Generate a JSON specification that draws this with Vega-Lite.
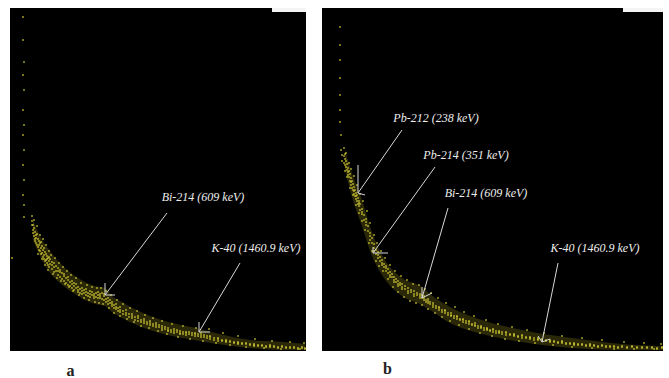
{
  "$schema": "https://vega.github.io/schema/vega-lite/v6.json",
  "background": "white",
  "padding": {"left": 10, "top": 8, "right": 6, "bottom": 0},
  "spacing": 16,
  "config": {
    "view": {"fill": "black", "stroke": null},
    "axisX": {"domain": false, "ticks": false, "labels": false, "grid": false, "titleFont": "Liberation Serif", "titleFontWeight": "bold", "titleFontSize": 16, "titleColor": "#222", "titleAnchor": "start", "titleAlign": "center", "titleBaseline": "middle"}
  },
  "datasets": {
    "specA": [
      {"c":13,"n":334},{"c":13,"n":311},{"c":14,"n":289},{"c":13,"n":276},{"c":14,"n":261},{"c":13,"n":241},{"c":14,"n":226},{"c":13,"n":216},{"c":14,"n":201},{"c":13,"n":186},{"c":14,"n":171},{"c":13,"n":156},{"c":14,"n":146},{"c":14,"n":134},{"c":22,"n":135},{"c":22,"n":130},{"c":22,"n":126},{"c":2,"n":93},
      {"c":23,"n":126},{"c":23,"n":118},{"c":23,"n":121},{"c":24,"n":115},{"c":24,"n":123},{"c":25,"n":112},{"c":25,"n":119},{"c":26,"n":108},{"c":26,"n":116},{"c":26,"n":113},{"c":27,"n":117},{"c":27,"n":106},{"c":28,"n":104},{"c":28,"n":112},{"c":29,"n":110},{"c":29,"n":101},{"c":29,"n":106},{"c":30,"n":100},{"c":30,"n":108},{"c":31,"n":103},{"c":31,"n":97},{"c":31,"n":109},{"c":32,"n":98},{"c":32,"n":105},{"c":33,"n":94},{"c":33,"n":101},{"c":34,"n":96},{"c":34,"n":92},{"c":34,"n":103},{"c":35,"n":90},{"c":35,"n":99},{"c":36,"n":97},{"c":36,"n":91},{"c":37,"n":88},{"c":37,"n":95},{"c":37,"n":92},{"c":38,"n":93},{"c":38,"n":86},{"c":39,"n":90},{"c":39,"n":84},{"c":39,"n":94},{"c":40,"n":87},{"c":40,"n":92},
      {"c":42,"n":82},{"c":42,"n":89},{"c":42,"n":86},{"c":44,"n":84},{"c":44,"n":79},{"c":44,"n":88},{"c":46,"n":80},{"c":46,"n":85},{"c":48,"n":76},{"c":48,"n":83},{"c":48,"n":80},{"c":50,"n":79},{"c":50,"n":74},{"c":50,"n":81},{"c":52,"n":72},{"c":52,"n":78},{"c":54,"n":75},{"c":54,"n":70},{"c":54,"n":77},{"c":56,"n":73},{"c":56,"n":68},{"c":58,"n":71},{"c":58,"n":66},{"c":58,"n":74},{"c":60,"n":69},{"c":60,"n":65},{"c":62,"n":67},{"c":62,"n":63},{"c":62,"n":70},{"c":64,"n":65},{"c":64,"n":61},{"c":64,"n":68},{"c":66,"n":63},{"c":66,"n":67},{"c":68,"n":61},{"c":68,"n":64},{"c":68,"n":59},{"c":70,"n":62},{"c":70,"n":58},{"c":72,"n":60},{"c":72,"n":57},{"c":72,"n":63},{"c":74,"n":58},{"c":74,"n":61},{"c":76,"n":56},{"c":76,"n":59},{"c":76,"n":62},{"c":78,"n":58},{"c":78,"n":55},{"c":80,"n":57},{"c":80,"n":54},{"c":80,"n":60},
      {"c":82,"n":56},{"c":82,"n":59},{"c":84,"n":53},{"c":84,"n":57},{"c":84,"n":55},{"c":86,"n":58},{"c":86,"n":54},{"c":88,"n":56},{"c":88,"n":59},{"c":88,"n":53},{"c":90,"n":57},{"c":90,"n":53},{"c":90,"n":55},{"c":92,"n":58},{"c":92,"n":52},{"c":94,"n":55},{"c":94,"n":51},{"c":94,"n":57},{"c":96,"n":52},{"c":96,"n":49},{"c":98,"n":50},{"c":98,"n":53},{"c":98,"n":47},{"c":100,"n":48},{"c":100,"n":51},{"c":102,"n":45},{"c":102,"n":49},{"c":102,"n":47},{"c":104,"n":46},{"c":104,"n":43},{"c":106,"n":44},{"c":106,"n":47},{"c":106,"n":42},{"c":108,"n":43},{"c":108,"n":40},{"c":110,"n":41},{"c":110,"n":44},{"c":110,"n":39},
      {"c":113,"n":40},{"c":113,"n":37},{"c":116,"n":38},{"c":116,"n":41},{"c":116,"n":36},{"c":119,"n":37},{"c":119,"n":34},{"c":122,"n":35},{"c":122,"n":33},{"c":122,"n":37},{"c":125,"n":34},{"c":125,"n":31},{"c":128,"n":33},{"c":128,"n":30},{"c":128,"n":35},{"c":131,"n":31},{"c":131,"n":29},{"c":134,"n":30},{"c":134,"n":32},{"c":134,"n":28},{"c":137,"n":29},{"c":137,"n":27},{"c":140,"n":28},{"c":140,"n":26},{"c":140,"n":30},{"c":143,"n":27},{"c":143,"n":25},{"c":146,"n":26},{"c":146,"n":24},{"c":146,"n":28},{"c":149,"n":24},{"c":149,"n":26},{"c":152,"n":23},{"c":152,"n":25},{"c":152,"n":21},{"c":155,"n":22},{"c":155,"n":24},{"c":158,"n":21},{"c":158,"n":23},{"c":158,"n":20},{"c":161,"n":21},{"c":161,"n":19},{"c":164,"n":20},{"c":164,"n":22},{"c":164,"n":18},{"c":167,"n":19},{"c":167,"n":21},{"c":170,"n":18},{"c":170,"n":20},{"c":170,"n":17},{"c":173,"n":19},{"c":173,"n":17},{"c":176,"n":18},{"c":176,"n":16},{"c":176,"n":19},{"c":179,"n":17},{"c":179,"n":19},{"c":182,"n":16},{"c":182,"n":18},{"c":185,"n":17},{"c":185,"n":15},{"c":185,"n":18},{"c":188,"n":17},{"c":188,"n":15},{"c":191,"n":16},{"c":191,"n":18},{"c":191,"n":14},{"c":194,"n":16},{"c":194,"n":14},{"c":197,"n":15},{"c":197,"n":13},{"c":200,"n":14},{"c":200,"n":12},{"c":200,"n":15},
      {"c":204,"n":13},{"c":204,"n":11},{"c":208,"n":12},{"c":208,"n":13},{"c":208,"n":10},{"c":212,"n":11},{"c":212,"n":10},{"c":216,"n":10},{"c":216,"n":11},{"c":216,"n":9},{"c":220,"n":9},{"c":220,"n":10},{"c":224,"n":9},{"c":224,"n":8},{"c":228,"n":8},{"c":228,"n":9},{"c":228,"n":7},{"c":232,"n":8},{"c":232,"n":7},{"c":236,"n":7},{"c":236,"n":8},{"c":240,"n":7},{"c":240,"n":6},{"c":244,"n":6},{"c":244,"n":7},{"c":244,"n":5},{"c":248,"n":6},{"c":248,"n":5},{"c":252,"n":5},{"c":252,"n":6},{"c":256,"n":5},{"c":256,"n":4},{"c":260,"n":5},{"c":260,"n":4},{"c":260,"n":6},{"c":264,"n":4},{"c":264,"n":5},{"c":268,"n":4},{"c":268,"n":3},{"c":272,"n":4},{"c":272,"n":5},{"c":276,"n":3},{"c":276,"n":4},{"c":280,"n":4},{"c":280,"n":3},{"c":284,"n":3},{"c":284,"n":4},{"c":288,"n":3},{"c":288,"n":2},{"c":292,"n":3},{"c":292,"n":4},{"c":295,"n":3},{"c":295,"n":2},
      {"c":24,"n":131},{"c":25,"n":110},{"c":27,"n":125},{"c":28,"n":97},{"c":30,"n":116},{"c":32,"n":92},{"c":33,"n":112},{"c":35,"n":86},{"c":36,"n":106},{"c":38,"n":81},{"c":39,"n":100},{"c":41,"n":96},{"c":43,"n":77},{"c":45,"n":93},{"c":47,"n":73},{"c":49,"n":88},{"c":51,"n":70},{"c":53,"n":84},{"c":55,"n":67},{"c":57,"n":80},{"c":59,"n":64},{"c":61,"n":76},{"c":63,"n":60},{"c":66,"n":73},{"c":69,"n":56},{"c":71,"n":68},{"c":74,"n":53},{"c":77,"n":66},{"c":79,"n":51},{"c":82,"n":64},{"c":85,"n":49},{"c":87,"n":63},{"c":89,"n":48},{"c":91,"n":63},{"c":93,"n":47},{"c":96,"n":60},{"c":99,"n":43},{"c":101,"n":56},{"c":104,"n":38},{"c":107,"n":51},{"c":110,"n":35},{"c":113,"n":47},{"c":117,"n":32},{"c":120,"n":43},{"c":124,"n":29},{"c":127,"n":40},{"c":131,"n":25},{"c":135,"n":36},{"c":139,"n":23},{"c":143,"n":33},{"c":148,"n":20},{"c":152,"n":30},{"c":157,"n":17},{"c":162,"n":27},{"c":168,"n":14},{"c":173,"n":25},{"c":180,"n":12},{"c":186,"n":23},{"c":193,"n":10},{"c":199,"n":22},{"c":206,"n":8},{"c":213,"n":18},{"c":220,"n":6},{"c":228,"n":15},{"c":236,"n":4},{"c":245,"n":12},{"c":254,"n":3},{"c":262,"n":10},{"c":271,"n":2},{"c":280,"n":9},{"c":290,"n":2},{"c":294,"n":8}
    ],
    "bandA": [
      {"c":23,"lo":111,"hi":131},{"c":30,"lo":95,"hi":115},{"c":40,"lo":78,"hi":100},{"c":50,"lo":68,"hi":88},{"c":65,"lo":57,"hi":75},{"c":85,"lo":47,"hi":65},{"c":90,"lo":46,"hi":64},{"c":95,"lo":45,"hi":63},{"c":102,"lo":39,"hi":55},{"c":110,"lo":34,"hi":50},{"c":140,"lo":21,"hi":35},{"c":190,"lo":10,"hi":22},{"c":240,"lo":3,"hi":11},{"c":275,"lo":1,"hi":9},{"c":295,"lo":1,"hi":7}
    ],
    "arrA": [
      {"x":157,"y":138,"x2":95,"y2":56},{"x":95,"y":56,"x2":95,"y2":68},{"x":95,"y":56,"x2":105,"y2":56},
      {"x":230,"y":88,"x2":189,"y2":19},{"x":189,"y":19,"x2":189,"y2":29},{"x":189,"y":19,"x2":200,"y2":19}
    ],
    "txtA": [
      {"x":193,"y":154,"label":"Bi-214 (609 keV)"},
      {"x":246,"y":103,"label":"K-40 (1460.9 keV)"}
    ],
    "boxA": [{"x":262,"x2":296,"y":339,"y2":343}],
    "specB": [
      {"c":18,"n":324},{"c":18,"n":306},{"c":18,"n":291},{"c":18,"n":273},{"c":18,"n":256},{"c":18,"n":241},{"c":18,"n":229},{"c":19,"n":216},{"c":19,"n":201},{"c":20,"n":196},{"c":20,"n":190},
      {"c":22,"n":195},{"c":22,"n":188},{"c":23,"n":192},{"c":23,"n":186},{"c":23,"n":197},{"c":24,"n":184},{"c":24,"n":190},{"c":25,"n":181},{"c":25,"n":187},{"c":26,"n":176},{"c":26,"n":183},{"c":26,"n":179},{"c":27,"n":174},{"c":27,"n":180},{"c":28,"n":170},{"c":28,"n":177},{"c":29,"n":166},{"c":29,"n":173},{"c":29,"n":169},{"c":30,"n":163},{"c":30,"n":170},{"c":31,"n":161},{"c":31,"n":167},{"c":32,"n":157},{"c":32,"n":164},{"c":32,"n":160},{"c":33,"n":155},{"c":33,"n":161},{"c":34,"n":152},{"c":34,"n":158},{"c":34,"n":155},{"c":35,"n":150},{"c":35,"n":156},{"c":36,"n":147},{"c":36,"n":153},{"c":37,"n":145},{"c":37,"n":150},{"c":37,"n":148},{"c":38,"n":141},{"c":38,"n":147},
      {"c":40,"n":137},{"c":40,"n":142},{"c":40,"n":139},{"c":42,"n":131},{"c":42,"n":136},{"c":44,"n":126},{"c":44,"n":132},{"c":44,"n":129},{"c":46,"n":120},{"c":46,"n":125},{"c":48,"n":115},{"c":48,"n":111},{"c":48,"n":118},{"c":50,"n":108},{"c":50,"n":113},{"c":52,"n":103},{"c":52,"n":107},{"c":52,"n":100},{"c":54,"n":101},{"c":54,"n":97},{"c":56,"n":93},{"c":56,"n":99},{"c":56,"n":96},{"c":58,"n":90},{"c":58,"n":94},{"c":60,"n":86},{"c":60,"n":91},{"c":60,"n":88},{"c":62,"n":84},{"c":62,"n":87},{"c":64,"n":80},{"c":64,"n":83},{"c":64,"n":85},{"c":66,"n":78},{"c":66,"n":82},{"c":68,"n":76},{"c":68,"n":79},{"c":68,"n":74},{"c":70,"n":74},{"c":70,"n":77},{"c":72,"n":71},{"c":72,"n":74},{"c":72,"n":69},{"c":74,"n":69},{"c":74,"n":72},{"c":76,"n":67},{"c":76,"n":70},{"c":76,"n":65},{"c":78,"n":66},{"c":78,"n":68},{"c":80,"n":64},{"c":80,"n":67},{"c":80,"n":62},
      {"c":83,"n":62},{"c":83,"n":65},{"c":86,"n":60},{"c":86,"n":63},{"c":86,"n":58},{"c":89,"n":59},{"c":89,"n":61},{"c":92,"n":57},{"c":92,"n":60},{"c":92,"n":55},{"c":95,"n":56},{"c":95,"n":58},{"c":98,"n":55},{"c":98,"n":57},{"c":98,"n":53},{"c":100,"n":56},{"c":100,"n":53},{"c":102,"n":53},{"c":102,"n":51},{"c":102,"n":55},{"c":104,"n":51},{"c":104,"n":49},{"c":106,"n":50},{"c":106,"n":48},{"c":106,"n":52},{"c":108,"n":49},{"c":108,"n":47},{"c":111,"n":46},{"c":111,"n":48},{"c":111,"n":44},{"c":114,"n":45},{"c":114,"n":43},{"c":117,"n":43},{"c":117,"n":41},{"c":117,"n":44},{"c":120,"n":41},{"c":120,"n":39},{"c":123,"n":40},{"c":123,"n":38},{"c":123,"n":41},{"c":126,"n":38},{"c":126,"n":36},{"c":129,"n":36},{"c":129,"n":35},{"c":129,"n":38},{"c":132,"n":35},{"c":132,"n":33},{"c":135,"n":34},{"c":135,"n":32},{"c":135,"n":35},{"c":138,"n":32},{"c":138,"n":31},{"c":141,"n":31},{"c":141,"n":29},{"c":141,"n":32},{"c":144,"n":30},{"c":144,"n":28},{"c":147,"n":29},{"c":147,"n":27},{"c":147,"n":30},{"c":150,"n":27},{"c":150,"n":26},{"c":153,"n":26},{"c":153,"n":25},{"c":153,"n":28},{"c":156,"n":25},{"c":156,"n":23},{"c":159,"n":24},{"c":159,"n":23},{"c":159,"n":25},{"c":162,"n":23},{"c":162,"n":21},{"c":165,"n":22},{"c":165,"n":21},{"c":165,"n":23},{"c":168,"n":21},{"c":168,"n":20},{"c":171,"n":21},{"c":171,"n":19},{"c":171,"n":22},{"c":174,"n":20},{"c":174,"n":18},{"c":177,"n":19},{"c":177,"n":18},{"c":177,"n":20},{"c":180,"n":19},{"c":180,"n":17},
      {"c":184,"n":18},{"c":184,"n":16},{"c":184,"n":19},{"c":188,"n":17},{"c":188,"n":16},{"c":192,"n":16},{"c":192,"n":15},{"c":192,"n":17},{"c":196,"n":15},{"c":196,"n":14},{"c":200,"n":15},{"c":200,"n":13},{"c":200,"n":16},{"c":204,"n":14},{"c":204,"n":13},{"c":208,"n":13},{"c":208,"n":12},{"c":208,"n":14},{"c":212,"n":13},{"c":212,"n":11},{"c":216,"n":12},{"c":216,"n":13},{"c":216,"n":11},{"c":220,"n":12},{"c":220,"n":11},{"c":224,"n":11},{"c":224,"n":10},{"c":228,"n":10},{"c":228,"n":11},{"c":228,"n":9},{"c":232,"n":10},{"c":232,"n":9},{"c":236,"n":9},{"c":236,"n":8},{"c":240,"n":9},{"c":240,"n":8},{"c":240,"n":10},{"c":244,"n":8},{"c":244,"n":7},{"c":248,"n":8},{"c":248,"n":7},{"c":252,"n":7},{"c":252,"n":8},{"c":252,"n":6},{"c":256,"n":7},{"c":256,"n":6},{"c":260,"n":6},{"c":260,"n":7},{"c":264,"n":6},{"c":264,"n":5},{"c":268,"n":6},{"c":268,"n":5},{"c":268,"n":7},{"c":272,"n":5},{"c":272,"n":6},{"c":276,"n":5},{"c":276,"n":4},{"c":280,"n":5},{"c":280,"n":6},{"c":284,"n":5},{"c":284,"n":4},{"c":288,"n":4},{"c":288,"n":5},{"c":292,"n":4},{"c":292,"n":5},{"c":296,"n":4},{"c":296,"n":3},{"c":300,"n":4},{"c":300,"n":5},{"c":305,"n":4},{"c":305,"n":3},{"c":310,"n":4},{"c":310,"n":5},{"c":315,"n":3},{"c":315,"n":4},{"c":320,"n":4},{"c":320,"n":3},{"c":325,"n":3},{"c":325,"n":4},{"c":330,"n":3},{"c":330,"n":4},{"c":335,"n":3},{"c":335,"n":2},{"c":340,"n":3},{"c":340,"n":4},
      {"c":22,"n":203},{"c":23,"n":180},{"c":24,"n":198},{"c":25,"n":174},{"c":27,"n":188},{"c":28,"n":163},{"c":29,"n":182},{"c":31,"n":156},{"c":32,"n":175},{"c":34,"n":146},{"c":35,"n":166},{"c":37,"n":138},{"c":38,"n":157},{"c":40,"n":130},{"c":41,"n":150},{"c":43,"n":121},{"c":45,"n":140},{"c":47,"n":108},{"c":48,"n":128},{"c":50,"n":100},{"c":52,"n":116},{"c":54,"n":90},{"c":55,"n":108},{"c":57,"n":85},{"c":59,"n":100},{"c":61,"n":80},{"c":63,"n":93},{"c":66,"n":72},{"c":68,"n":86},{"c":71,"n":64},{"c":73,"n":80},{"c":76,"n":59},{"c":79,"n":75},{"c":82,"n":54},{"c":85,"n":71},{"c":88,"n":50},{"c":91,"n":67},{"c":94,"n":48},{"c":97,"n":66},{"c":100,"n":46},{"c":103,"n":62},{"c":106,"n":42},{"c":109,"n":58},{"c":113,"n":38},{"c":116,"n":53},{"c":120,"n":34},{"c":124,"n":48},{"c":128,"n":30},{"c":133,"n":44},{"c":137,"n":26},{"c":142,"n":39},{"c":147,"n":22},{"c":152,"n":35},{"c":158,"n":18},{"c":164,"n":31},{"c":170,"n":15},{"c":176,"n":27},{"c":183,"n":12},{"c":190,"n":24},{"c":197,"n":10},{"c":205,"n":21},{"c":213,"n":8},{"c":222,"n":18},{"c":231,"n":6},{"c":240,"n":15},{"c":250,"n":4},{"c":260,"n":13},{"c":270,"n":3},{"c":280,"n":11},{"c":292,"n":2},{"c":302,"n":9},{"c":312,"n":2},{"c":322,"n":8},{"c":332,"n":2},{"c":339,"n":7}
    ],
    "bandB": [
      {"c":23,"lo":181,"hi":201},{"c":30,"lo":154,"hi":178},{"c":40,"lo":125,"hi":151},{"c":50,"lo":95,"hi":119},{"c":60,"lo":76,"hi":96},{"c":80,"lo":55,"hi":73},{"c":100,"lo":46,"hi":64},{"c":108,"lo":41,"hi":57},{"c":130,"lo":27,"hi":43},{"c":160,"lo":17,"hi":31},{"c":200,"lo":9,"hi":21},{"c":250,"lo":3,"hi":13},{"c":300,"lo":1,"hi":7},{"c":341,"lo":1,"hi":5}
    ],
    "arrB": [
      {"x":80,"y":221,"x2":36,"y2":158},{"x":36,"y":158,"x2":36,"y2":186},{"x":36,"y":158,"x2":43,"y2":156},
      {"x":113,"y":184,"x2":51,"y2":98},{"x":51,"y":98,"x2":51,"y2":104},{"x":51,"y":98,"x2":66,"y2":98},
      {"x":126,"y":143,"x2":100,"y2":53},{"x":100,"y":53,"x2":100,"y2":64},{"x":100,"y":53,"x2":110,"y2":58},
      {"x":236,"y":88,"x2":220,"y2":9},{"x":220,"y":9,"x2":216,"y2":15},{"x":220,"y":9,"x2":228,"y2":12}
    ],
    "txtB": [
      {"x":114,"y":233,"label":"Pb-212 (238 keV)"},
      {"x":144,"y":196,"label":"Pb-214 (351 keV)"},
      {"x":164,"y":158,"label":"Bi-214 (609 keV)"},
      {"x":273,"y":103,"label":"K-40 (1460.9 keV)"}
    ],
    "boxB": [{"x":301,"x2":341,"y":339,"y2":343}]
  },
  "hconcat": [
    {
      "width": 296,
      "height": 343,
      "layer": [
        {
          "data": {"name": "bandA"},
          "mark": {"type": "area", "color": "#8a8418", "opacity": 0.3, "interpolate": "monotone"},
          "encoding": {
            "x": {"field": "c", "type": "quantitative", "scale": {"domain": [0, 296], "nice": false}, "axis": {"title": "a", "titleX": 60, "titleY": 19}},
            "y": {"field": "lo", "type": "quantitative", "scale": {"domain": [0, 343], "nice": false}, "axis": null},
            "y2": {"field": "hi"}
          }
        },
        {
          "data": {"name": "specA"},
          "mark": {"type": "point", "filled": true, "size": 4, "color": "#d8d038", "opacity": 0.75},
          "encoding": {
            "x": {"field": "c", "type": "quantitative"},
            "y": {"field": "n", "type": "quantitative"}
          }
        },
        {
          "data": {"name": "arrA"},
          "mark": {"type": "rule", "color": "#d8d8d8", "strokeWidth": 1},
          "encoding": {
            "x": {"field": "x", "type": "quantitative"},
            "y": {"field": "y", "type": "quantitative"},
            "x2": {"field": "x2"},
            "y2": {"field": "y2"}
          }
        },
        {
          "data": {"name": "txtA"},
          "mark": {"type": "text", "font": "Liberation Serif", "fontStyle": "italic", "fontSize": 12, "color": "#eeeeee", "align": "center", "baseline": "middle"},
          "encoding": {
            "x": {"field": "x", "type": "quantitative"},
            "y": {"field": "y", "type": "quantitative"},
            "text": {"field": "label"}
          }
        },
        {
          "data": {"name": "boxA"},
          "mark": {"type": "rect", "color": "#f4f4f4"},
          "encoding": {
            "x": {"field": "x", "type": "quantitative"},
            "x2": {"field": "x2"},
            "y": {"field": "y", "type": "quantitative"},
            "y2": {"field": "y2"}
          }
        }
      ]
    },
    {
      "width": 341,
      "height": 343,
      "layer": [
        {
          "data": {"name": "bandB"},
          "mark": {"type": "area", "color": "#8a8418", "opacity": 0.3, "interpolate": "monotone"},
          "encoding": {
            "x": {"field": "c", "type": "quantitative", "scale": {"domain": [0, 341], "nice": false}, "axis": {"title": "b", "titleX": 65, "titleY": 17}},
            "y": {"field": "lo", "type": "quantitative", "scale": {"domain": [0, 343], "nice": false}, "axis": null},
            "y2": {"field": "hi"}
          }
        },
        {
          "data": {"name": "specB"},
          "mark": {"type": "point", "filled": true, "size": 4, "color": "#d8d038", "opacity": 0.75},
          "encoding": {
            "x": {"field": "c", "type": "quantitative"},
            "y": {"field": "n", "type": "quantitative"}
          }
        },
        {
          "data": {"name": "arrB"},
          "mark": {"type": "rule", "color": "#d8d8d8", "strokeWidth": 1},
          "encoding": {
            "x": {"field": "x", "type": "quantitative"},
            "y": {"field": "y", "type": "quantitative"},
            "x2": {"field": "x2"},
            "y2": {"field": "y2"}
          }
        },
        {
          "data": {"name": "txtB"},
          "mark": {"type": "text", "font": "Liberation Serif", "fontStyle": "italic", "fontSize": 12, "color": "#eeeeee", "align": "center", "baseline": "middle"},
          "encoding": {
            "x": {"field": "x", "type": "quantitative"},
            "y": {"field": "y", "type": "quantitative"},
            "text": {"field": "label"}
          }
        },
        {
          "data": {"name": "boxB"},
          "mark": {"type": "rect", "color": "#f4f4f4"},
          "encoding": {
            "x": {"field": "x", "type": "quantitative"},
            "x2": {"field": "x2"},
            "y": {"field": "y", "type": "quantitative"},
            "y2": {"field": "y2"}
          }
        }
      ]
    }
  ]
}
